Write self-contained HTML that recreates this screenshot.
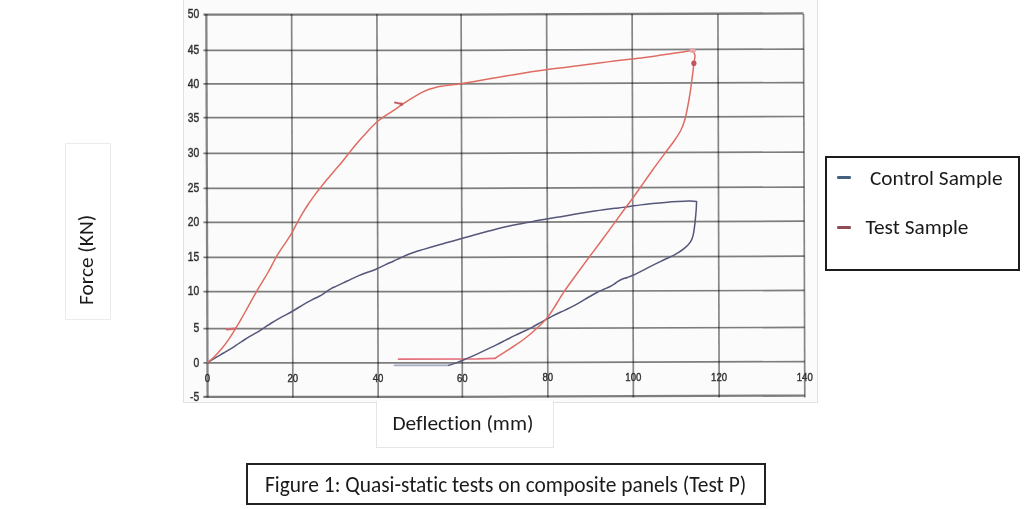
<!DOCTYPE html>
<html><head><meta charset="utf-8"><title>Figure 1</title>
<style>
html,body{margin:0;padding:0;background:#fff;}
body{width:1024px;height:509px;position:relative;overflow:hidden;font-family:Carlito,"Liberation Sans",sans-serif;color:#1a1a1a;}
.chart{position:absolute;left:183px;top:-2px;width:633px;height:403px;background:#fcfbfb;border:1px solid #e2e2e2;}
.box{position:absolute;box-sizing:border-box;}
.ylab{left:65px;top:143px;width:46px;height:177px;border:1px solid #ebebeb;}
.xlab{left:376px;top:400.5px;width:178px;height:47.5px;border:1px solid #e6e6e6;border-top:none;background:#fff;}
.t{position:absolute;font-size:21.33px;line-height:1;white-space:nowrap;font-variant-ligatures:none;font-feature-settings:"liga" 0,"clig" 0;}
.legend{left:825px;top:156px;width:195px;height:115px;border:2px solid #1c1c1c;}
.cap{left:246px;top:463px;width:520px;height:42px;border:2px solid #222;}
.dash{position:absolute;height:2.4px;width:13.8px;border-radius:1.2px;}
</style></head><body>
<div class="chart"></div>
<div class="box ylab"></div>
<span class="t" style="left:76px;top:305px;transform-origin:0 0;transform:rotate(-90deg)">Force (KN)</span>
<div class="box xlab"></div>
<span class="t" style="left:392.5px;top:413px">Deflection (mm)</span>
<svg width="1024" height="509" viewBox="0 0 1024 509" style="position:absolute;left:0;top:0">
 <defs><filter id="bl" x="-5%" y="-5%" width="110%" height="110%"><feGaussianBlur stdDeviation="0.55"/></filter><filter id="bl3" x="-2%" y="-2%" width="104%" height="104%"><feGaussianBlur stdDeviation="0.45"/></filter><filter id="bl2" x="-20%" y="-20%" width="140%" height="140%"><feGaussianBlur stdDeviation="0.7"/></filter></defs>
 <g filter="url(#bl)">
  <g stroke="#000" stroke-opacity="0.5" stroke-width="1.7" fill="none" filter="url(#bl3)">
   <polyline stroke-width="2.3" points="203.40,14.60 450,14.60 803.52,13.40"/><polyline points="203.40,50.30 450,50.30 803.64,49.10"/><polyline points="203.40,83.80 450,83.80 803.75,82.60"/><polyline points="203.40,117.70 450,117.70 803.86,116.50"/><polyline points="203.40,153.30 450,153.30 803.98,152.10"/><polyline points="203.40,188.30 450,188.30 804.09,187.10"/><polyline points="203.40,222.40 450,222.40 804.20,221.20"/><polyline points="203.40,257.40 450,257.40 804.32,256.20"/><polyline points="203.40,291.60 450,291.60 804.43,290.40"/><polyline points="203.40,328.60 450,328.60 804.55,327.40"/><polyline points="203.40,362.80 450,362.80 804.67,361.60"/><polyline stroke-width="2.3" points="203.40,396.80 450,396.80 804.78,395.60"/>
  </g>
  <g stroke="#000" stroke-opacity="0.47" stroke-width="1.7" fill="none" filter="url(#bl3)">
   <line stroke-width="2.3" x1="206.32" y1="14.00" x2="207.58" y2="397.40"/><line x1="291.62" y1="14.00" x2="292.88" y2="397.40"/><line x1="376.92" y1="14.00" x2="378.18" y2="397.40"/><line x1="461.12" y1="14.00" x2="462.38" y2="397.40"/><line x1="546.62" y1="14.00" x2="547.88" y2="397.40"/><line x1="632.12" y1="14.00" x2="633.38" y2="397.40"/><line x1="717.92" y1="14.00" x2="719.18" y2="397.40"/><line x1="803.52" y1="14.00" x2="804.78" y2="397.40"/>
  </g>
  <g font-family="'Liberation Sans', Arial, sans-serif" font-size="12" fill="#303030" stroke="#303030" stroke-width="0.4">
   <text transform="translate(199.3 18.40) scale(0.86 1)" text-anchor="end">50</text><text transform="translate(199.3 54.10) scale(0.86 1)" text-anchor="end">45</text><text transform="translate(199.3 87.60) scale(0.86 1)" text-anchor="end">40</text><text transform="translate(199.3 121.50) scale(0.86 1)" text-anchor="end">35</text><text transform="translate(199.3 157.10) scale(0.86 1)" text-anchor="end">30</text><text transform="translate(199.3 192.10) scale(0.86 1)" text-anchor="end">25</text><text transform="translate(199.3 226.20) scale(0.86 1)" text-anchor="end">20</text><text transform="translate(199.3 261.20) scale(0.86 1)" text-anchor="end">15</text><text transform="translate(199.3 295.40) scale(0.86 1)" text-anchor="end">10</text><text transform="translate(199.3 332.40) scale(0.86 1)" text-anchor="end">5</text><text transform="translate(199.3 366.60) scale(0.86 1)" text-anchor="end">0</text><text transform="translate(199.3 400.60) scale(0.86 1)" text-anchor="end">-5</text>
   <text transform="translate(207.52 381.80) scale(0.85 1)" text-anchor="middle" font-size="11.3">0</text><text transform="translate(292.82 381.80) scale(0.85 1)" text-anchor="middle" font-size="11.3">20</text><text transform="translate(378.12 381.80) scale(0.85 1)" text-anchor="middle" font-size="11.3">40</text><text transform="translate(462.32 381.76) scale(0.85 1)" text-anchor="middle" font-size="11.3">60</text><text transform="translate(547.82 381.47) scale(0.85 1)" text-anchor="middle" font-size="11.3">80</text><text transform="translate(633.32 381.18) scale(0.85 1)" text-anchor="middle" font-size="11.3">100</text><text transform="translate(719.12 380.89) scale(0.85 1)" text-anchor="middle" font-size="11.3">120</text><text transform="translate(804.72 380.60) scale(0.85 1)" text-anchor="middle" font-size="11.3">140</text>
  </g>
 </g>
 <g fill="none" stroke-linejoin="round" stroke-linecap="round" filter="url(#bl)">
  <polyline points="449.0,365.3 394.5,365.4" stroke="#a4abc4" stroke-width="1.8"/>
  <polyline points="495.3,358.3 477.4,358.8 398.6,359.2" stroke="#e4707c" stroke-width="1.8"/>
  <path d="M207.70,362.50 C208.90,361.75 212.27,359.61 214.92,358.02 C217.57,356.44 220.77,354.65 223.60,353.00 C226.43,351.35 229.43,349.64 231.90,348.10 C234.37,346.56 236.28,345.18 238.43,343.75 C240.58,342.32 242.54,340.93 244.80,339.50 C247.06,338.07 249.68,336.57 252.00,335.20 C254.32,333.83 256.60,332.55 258.70,331.27 C260.80,330.00 262.45,328.90 264.58,327.52 C266.70,326.15 268.97,324.54 271.43,323.00 C273.88,321.46 276.74,319.74 279.30,318.30 C281.86,316.86 284.26,315.76 286.80,314.38 C289.34,312.99 291.79,311.63 294.55,310.00 C297.31,308.37 300.46,306.28 303.35,304.60 C306.24,302.92 309.31,301.28 311.88,299.93 C314.44,298.57 316.78,297.54 318.75,296.48 C320.72,295.41 322.20,294.47 323.67,293.52 C325.15,292.57 326.30,291.63 327.60,290.77 C328.90,289.92 330.03,289.17 331.50,288.40 C332.97,287.62 334.43,287.04 336.40,286.12 C338.37,285.21 340.84,284.07 343.30,282.90 C345.76,281.72 348.59,280.29 351.18,279.07 C353.76,277.86 356.29,276.65 358.80,275.60 C361.31,274.55 363.88,273.63 366.23,272.77 C368.58,271.92 370.80,271.29 372.90,270.48 C375.00,269.66 376.67,268.85 378.80,267.88 C380.93,266.90 383.26,265.71 385.68,264.60 C388.09,263.49 390.81,262.36 393.30,261.23 C395.79,260.09 398.15,258.93 400.60,257.80 C403.05,256.67 405.48,255.46 408.00,254.45 C410.52,253.44 413.13,252.57 415.73,251.72 C418.32,250.88 420.96,250.17 423.58,249.38 C426.19,248.58 428.80,247.76 431.43,246.97 C434.05,246.19 436.68,245.41 439.30,244.68 C441.93,243.94 444.59,243.26 447.18,242.55 C449.76,241.84 452.28,241.14 454.83,240.42 C457.38,239.71 459.80,239.02 462.48,238.28 C465.15,237.53 468.01,236.76 470.88,235.97 C473.74,235.19 476.82,234.36 479.65,233.57 C482.48,232.79 485.20,232.01 487.88,231.28 C490.55,230.54 493.11,229.84 495.73,229.17 C498.34,228.51 500.96,227.91 503.58,227.30 C506.19,226.69 508.80,226.08 511.43,225.53 C514.05,224.97 516.67,224.46 519.30,223.98 C521.92,223.49 524.55,223.08 527.17,222.60 C529.80,222.12 532.54,221.58 535.02,221.10 C537.51,220.62 539.68,220.16 542.10,219.73 C544.52,219.29 546.73,218.93 549.52,218.48 C552.32,218.02 555.82,217.48 558.88,216.98 C561.93,216.47 565.07,215.93 567.88,215.45 C570.68,214.97 573.11,214.52 575.73,214.07 C578.34,213.63 580.96,213.22 583.58,212.80 C586.19,212.38 588.80,211.98 591.42,211.57 C594.05,211.17 596.67,210.76 599.30,210.38 C601.92,209.99 604.55,209.62 607.17,209.28 C609.80,208.93 612.41,208.62 615.02,208.30 C617.64,207.98 620.20,207.72 622.88,207.38 C625.55,207.03 628.08,206.64 631.08,206.23 C634.07,205.81 637.24,205.31 640.83,204.88 C644.41,204.44 648.54,204.00 652.60,203.60 C656.66,203.20 660.99,202.79 665.17,202.45 C669.36,202.11 673.54,201.79 677.73,201.55 C681.91,201.31 688.20,201.09 690.30,201.00 C691.35,201.07 695.55,201.33 696.60,201.40 C696.52,203.01 696.33,207.85 696.10,211.05 C695.87,214.25 695.54,217.59 695.22,220.57 C694.91,223.56 694.59,226.44 694.23,228.95 C693.86,231.46 693.58,233.65 693.05,235.65 C692.52,237.65 691.93,239.36 691.05,240.97 C690.17,242.59 689.03,244.00 687.75,245.35 C686.47,246.70 684.90,247.93 683.38,249.10 C681.85,250.27 680.24,251.37 678.62,252.40 C677.01,253.43 675.47,254.36 673.67,255.30 C671.88,256.24 670.03,257.05 667.88,258.05 C665.72,259.05 663.20,260.15 660.73,261.32 C658.25,262.50 655.47,263.91 653.05,265.12 C650.63,266.34 648.39,267.49 646.22,268.60 C644.06,269.71 642.16,270.74 640.08,271.80 C637.99,272.86 635.83,274.03 633.70,274.98 C631.58,275.92 629.29,276.74 627.33,277.45 C625.36,278.16 623.47,278.58 621.90,279.23 C620.33,279.88 619.21,280.53 617.93,281.35 C616.64,282.18 615.63,283.23 614.17,284.18 C612.72,285.12 610.98,286.12 609.20,287.00 C607.43,287.88 605.57,288.55 603.52,289.48 C601.48,290.40 599.45,291.23 596.95,292.52 C594.45,293.82 591.48,295.50 588.50,297.23 C585.52,298.95 582.23,301.09 579.10,302.88 C575.97,304.66 572.83,306.36 569.70,307.93 C566.57,309.49 563.20,310.88 560.30,312.25 C557.40,313.62 554.58,314.97 552.30,316.12 C550.02,317.28 548.60,318.12 546.62,319.20 C544.65,320.28 542.83,321.29 540.48,322.60 C538.12,323.91 535.22,325.60 532.48,327.05 C529.73,328.50 526.92,329.90 524.02,331.30 C521.13,332.70 518.15,333.97 515.10,335.45 C512.05,336.93 508.83,338.60 505.70,340.18 C502.57,341.75 499.44,343.35 496.30,344.88 C493.16,346.40 489.93,347.88 486.88,349.33 C483.82,350.78 480.78,352.27 478.00,353.57 C475.22,354.88 472.74,356.03 470.20,357.15 C467.66,358.27 465.22,359.27 462.78,360.27 C460.33,361.27 457.85,362.31 455.55,363.15 C453.25,363.99 450.09,364.94 449.00,365.30" stroke="#54577a" stroke-width="1.5"/>
  <path d="M207.70,362.50 C208.75,361.58 211.67,359.32 214.03,357.00 C216.38,354.68 219.30,351.67 221.82,348.60 C224.35,345.53 226.99,341.81 229.20,338.60 C231.41,335.39 233.20,332.36 235.07,329.32 C236.95,326.29 238.68,323.39 240.43,320.38 C242.18,317.36 243.88,314.30 245.57,311.25 C247.27,308.20 248.80,305.32 250.60,302.10 C252.40,298.88 254.41,295.30 256.38,291.92 C258.34,288.55 260.49,285.00 262.38,281.85 C264.26,278.70 266.05,275.83 267.68,273.00 C269.30,270.17 270.68,267.52 272.10,264.88 C273.52,262.23 274.70,259.71 276.18,257.12 C277.65,254.54 279.26,251.92 280.95,249.35 C282.64,246.78 284.52,244.40 286.30,241.70 C288.08,239.00 289.85,236.28 291.65,233.15 C293.45,230.02 295.25,226.32 297.12,222.90 C299.00,219.47 300.96,215.87 302.92,212.60 C304.89,209.33 306.94,206.20 308.90,203.27 C310.86,200.35 312.77,197.68 314.70,195.08 C316.63,192.47 318.36,190.30 320.48,187.62 C322.59,184.95 324.99,181.93 327.38,179.05 C329.76,176.18 332.44,173.09 334.78,170.38 C337.11,167.66 339.10,165.51 341.38,162.75 C343.65,159.99 345.93,156.95 348.45,153.80 C350.97,150.65 353.86,146.98 356.52,143.82 C359.19,140.67 361.97,137.60 364.42,134.88 C366.88,132.15 369.16,129.66 371.27,127.47 C373.39,125.29 375.15,123.47 377.10,121.78 C379.05,120.08 380.83,118.79 382.95,117.30 C385.08,115.81 387.45,114.42 389.85,112.85 C392.25,111.28 394.96,109.49 397.35,107.88 C399.74,106.26 402.00,104.62 404.18,103.17 C406.35,101.72 408.30,100.47 410.38,99.18 C412.45,97.88 414.51,96.61 416.60,95.40 C418.69,94.19 420.80,92.95 422.90,91.93 C425.00,90.90 427.09,90.00 429.17,89.25 C431.26,88.50 433.34,87.95 435.43,87.45 C437.51,86.95 439.60,86.62 441.70,86.28 C443.80,85.93 445.90,85.65 448.00,85.38 C450.10,85.10 452.15,84.86 454.30,84.60 C456.45,84.34 457.76,84.27 460.88,83.80 C463.99,83.33 467.40,82.78 473.00,81.80 C478.60,80.82 486.64,79.31 494.45,77.95 C502.26,76.59 511.56,74.97 519.88,73.65 C528.19,72.33 536.88,71.07 544.33,70.03 C551.78,68.98 558.06,68.23 564.58,67.40 C571.09,66.57 576.20,65.95 583.40,65.03 C590.60,64.10 599.65,62.89 607.75,61.88 C615.85,60.86 625.22,59.78 632.02,58.95 C638.83,58.12 643.74,57.57 648.60,56.92 C653.46,56.28 656.99,55.71 661.17,55.10 C665.36,54.49 669.85,53.83 673.73,53.27 C677.60,52.72 681.49,52.20 684.45,51.75 C687.41,51.30 690.33,50.79 691.50,50.60 C691.91,50.97 693.35,51.98 693.95,52.83 C694.55,53.68 694.91,55.22 695.10,55.70 C694.89,57.12 694.30,60.84 693.85,64.25 C693.40,67.66 692.96,71.61 692.38,76.15 C691.79,80.69 691.12,86.31 690.32,91.47 C689.53,96.64 688.56,102.40 687.62,107.15 C686.69,111.90 685.85,116.10 684.73,119.95 C683.60,123.80 682.59,126.79 680.85,130.25 C679.11,133.71 676.95,136.85 674.27,140.70 C671.60,144.55 668.40,148.53 664.82,153.38 C661.25,158.22 656.77,164.23 652.80,169.75 C648.82,175.27 644.29,181.81 640.98,186.50 C637.66,191.19 635.23,194.67 632.90,197.88 C630.57,201.08 628.97,203.07 627.00,205.72 C625.03,208.38 623.07,211.06 621.10,213.77 C619.13,216.49 617.26,219.16 615.20,222.00 C613.14,224.84 611.24,227.41 608.73,230.83 C606.21,234.24 603.37,238.09 600.10,242.50 C596.83,246.91 592.84,252.27 589.10,257.30 C585.36,262.33 581.07,268.03 577.65,272.70 C574.23,277.37 570.97,281.89 568.55,285.30 C566.12,288.71 564.68,290.80 563.10,293.18 C561.52,295.55 560.49,297.27 559.07,299.55 C557.66,301.83 556.09,304.50 554.60,306.88 C553.11,309.25 551.66,311.67 550.12,313.82 C548.59,315.98 547.17,317.82 545.40,319.82 C543.63,321.82 541.66,323.75 539.50,325.82 C537.34,327.90 534.99,330.10 532.45,332.30 C529.91,334.50 527.14,336.81 524.25,339.00 C521.36,341.19 518.19,343.37 515.10,345.45 C512.01,347.52 508.48,349.66 505.70,351.45 C502.92,353.24 500.13,355.06 498.40,356.20 C496.67,357.34 495.82,357.95 495.30,358.30" stroke="#df6c62" stroke-width="1.5"/>
 </g>
 <g filter="url(#bl2)">
  <path d="M227,329.3 L235.5,328.7" stroke="#d26a72" stroke-width="2.2" stroke-linecap="round" fill="none"/>
  <path d="M395,102.6 L401.8,104" stroke="#c9606a" stroke-width="2" stroke-linecap="round" fill="none"/>
  <circle cx="401.6" cy="104.2" r="1.6" fill="#c05a60"/>
  <ellipse cx="692.6" cy="50.6" rx="3.2" ry="2.4" fill="#e7a4ac"/>
  <ellipse cx="693.9" cy="63.2" rx="2.6" ry="2.8" fill="#c4545c"/>
 </g>
</svg>
<div class="box legend"></div>
<div class="dash" style="left:837.2px;top:176.3px;height:2.7px;background:#46607f"></div>
<div class="dash" style="left:837.2px;top:226.2px;height:2.8px;background:#8f4e56"></div>
<span class="t" style="left:870px;top:168px">Control Sample</span>
<span class="t" style="left:865.5px;top:216.5px">Test Sample</span>
<div class="box cap"></div>
<span class="t" style="left:265px;top:474.5px;font-size:21.43px">Figure 1: Quasi-static tests on composite panels (Test P)</span>
</body></html>
